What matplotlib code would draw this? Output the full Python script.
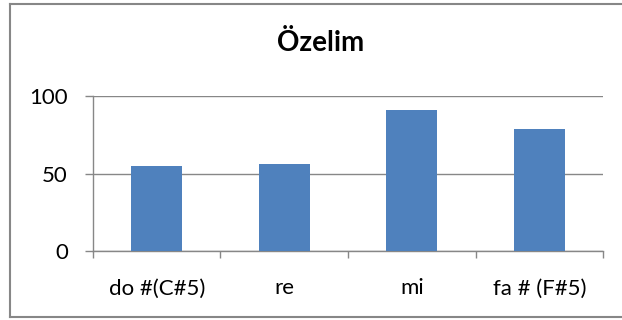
import matplotlib
matplotlib.use("Agg")
import matplotlib.pyplot as plt
from matplotlib.lines import Line2D

categories = ["do #(C#5)", "re", "mi", "fa # (F#5)"]
values = [55, 56, 91, 79]
y_ticks = [0, 50, 100]
title = "Özelim"

plt.rcParams["font.family"] = ["Lato", "DejaVu Sans"]

bar_color = "#4F81BD"
line_color = "#878787"

fig = plt.figure(figsize=(6.22, 3.2), dpi=100)
ax = fig.add_axes([0.1495, 0.2166, 0.82, 0.4824])

x = range(len(categories))
ax.bar(x, values, width=0.4, color=bar_color, zorder=3)

ax.set_xlim(-0.5, len(categories) - 0.5)
ax.set_ylim(0, 100)
ax.set_yticks(y_ticks)
ax.yaxis.grid(True, color=line_color, linewidth=1.0, zorder=0)

# category labels sit between the boundary ticks
ax.set_xticks([i - 0.5 for i in range(len(categories) + 1)])
ax.set_xticklabels([])
ax.set_xticks(list(x), minor=True)
ax.set_xticklabels(categories, minor=True, fontsize=16)
ax.tick_params(axis="x", which="minor", length=0, pad=20)
ax.tick_params(axis="x", which="major", direction="out", length=5,
               color=line_color, width=1.0)
ax.tick_params(axis="y", direction="out", length=6, color=line_color,
               width=1.0, labelsize=16, pad=12)

for side in ["top", "right"]:
    ax.spines[side].set_visible(False)
for side in ["left", "bottom"]:
    ax.spines[side].set_color(line_color)
    ax.spines[side].set_linewidth(1.0)

fig.text(0.516, 0.865, title, ha="center", va="center",
         fontsize=20, fontweight="bold")

# chart area frame (right side runs off the canvas)
x0, y0, y1 = 10 / 622, 3 / 320, 316 / 320
for xs, ys in [([x0, x0], [y0, y1]), ([x0, 1], [y1, y1]), ([x0, 1], [y0, y0])]:
    fig.add_artist(Line2D(xs, ys, color=line_color, linewidth=1.5,
                          transform=fig.transFigure))

fig.savefig("out.png", dpi=100)
